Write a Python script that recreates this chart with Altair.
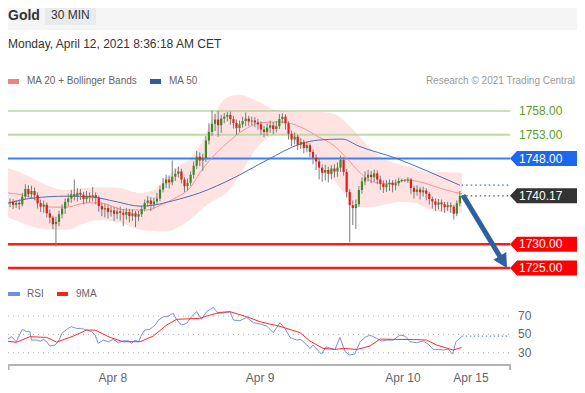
import altair as alt
import pandas as pd

# ---------------- data ----------------
opens = [1738.3, 1738.6, 1738.9, 1738.3, 1738.7, 1738.4, 1740.0, 1741.6, 1740.5, 1741.2,
         1740.3, 1738.6, 1737.9, 1738.3, 1736.5, 1735.6, 1734.2, 1734.7, 1736.3, 1737.5,
         1738.9, 1739.6, 1740.5, 1740.1, 1740.8, 1740.4, 1739.5, 1740.2, 1739.9, 1740.3,
         1739.8, 1738.0, 1737.3, 1737.6, 1736.8, 1737.1, 1736.4, 1736.9, 1736.6, 1736.2,
         1736.8, 1735.9, 1736.5, 1735.8, 1736.3, 1737.4, 1738.7, 1739.2, 1738.4, 1739.0,
         1739.6, 1741.5, 1742.8, 1743.6, 1743.0, 1744.2, 1744.8, 1745.3, 1743.6, 1742.2,
         1742.9, 1744.6, 1746.5, 1748.4, 1747.6, 1748.1, 1751.8, 1753.6, 1755.3, 1756.2,
         1755.0, 1756.4, 1756.8, 1757.2, 1756.3, 1755.5, 1754.4, 1755.2, 1755.9, 1756.4,
         1755.8, 1756.0, 1755.6, 1755.2, 1754.1, 1753.6, 1754.5, 1755.0, 1754.2, 1754.8,
         1756.3, 1756.8, 1755.4, 1753.2, 1752.0, 1752.6, 1750.9, 1751.5, 1750.2, 1750.8,
         1749.4, 1748.2, 1747.4, 1746.1, 1745.0, 1745.6, 1744.8, 1745.9, 1745.3, 1746.1,
         1747.7, 1745.2, 1741.0, 1738.2, 1737.6, 1738.4, 1741.4, 1743.2, 1744.0, 1744.6,
         1744.1, 1744.9, 1743.6, 1742.7, 1742.0, 1742.6, 1742.9, 1742.4, 1742.8, 1743.3,
         1743.5, 1743.4, 1743.6, 1741.8, 1741.0, 1741.5, 1740.9, 1741.3, 1740.6, 1739.5,
         1739.0, 1738.3, 1738.8, 1738.4, 1737.8, 1738.2, 1737.9, 1736.4, 1738.6]
highs = [1739.4, 1739.6, 1739.5, 1739.3, 1739.4, 1740.8, 1742.6, 1742.4, 1742.3, 1741.9,
         1740.9, 1739.4, 1739.2, 1738.8, 1737.3, 1736.0, 1735.8, 1737.0, 1738.4, 1739.6,
         1740.6, 1741.4, 1743.6, 1741.8, 1741.6, 1741.0, 1741.2, 1740.9, 1742.0, 1740.9,
         1740.2, 1738.7, 1738.5, 1738.3, 1738.0, 1737.8, 1737.7, 1737.9, 1737.4, 1737.6,
         1737.4, 1737.3, 1737.0, 1737.0, 1738.1, 1739.4, 1740.1, 1739.9, 1739.8, 1740.8,
         1742.3, 1743.9, 1744.6, 1744.4, 1747.6, 1745.9, 1746.3, 1745.9, 1744.1, 1743.8,
         1745.3, 1747.4, 1749.6, 1749.3, 1749.0, 1752.7, 1755.4, 1758.1, 1757.4, 1758.0,
         1757.2, 1757.6, 1757.8, 1757.9, 1757.0, 1756.2, 1756.0, 1756.8, 1757.7, 1757.0,
         1756.8, 1756.7, 1756.3, 1755.8, 1754.9, 1755.3, 1756.0, 1755.7, 1755.9, 1757.4,
         1757.5, 1757.3, 1755.8, 1753.9, 1753.5, 1753.0, 1752.3, 1752.0, 1751.6, 1751.2,
         1749.9, 1748.9, 1748.0, 1746.8, 1746.7, 1746.3, 1746.6, 1746.8, 1747.2, 1748.6,
         1748.3, 1745.8, 1741.6, 1739.2, 1739.4, 1742.2, 1744.1, 1745.3, 1745.6, 1745.4,
         1745.7, 1745.5, 1744.4, 1743.4, 1743.5, 1743.6, 1743.5, 1743.6, 1744.0, 1743.8,
         1743.7, 1744.1, 1743.9, 1742.3, 1742.4, 1742.0, 1742.1, 1741.8, 1741.0, 1740.0,
         1739.6, 1739.5, 1739.4, 1738.9, 1738.9, 1738.8, 1738.3, 1739.2, 1741.2]
lows = [1737.6, 1737.8, 1737.4, 1737.6, 1737.3, 1737.9, 1739.4, 1739.8, 1739.6, 1739.2,
        1737.5, 1736.8, 1736.6, 1735.6, 1734.4, 1733.2, 1729.5, 1733.8, 1735.4, 1736.4,
        1738.0, 1738.7, 1739.2, 1739.0, 1739.3, 1738.4, 1738.6, 1738.8, 1739.0, 1738.4,
        1736.8, 1735.9, 1735.6, 1735.4, 1735.8, 1734.9, 1735.3, 1735.0, 1733.8, 1735.2,
        1734.6, 1734.9, 1733.6, 1734.8, 1735.7, 1736.9, 1737.8, 1737.0, 1737.5, 1738.2,
        1739.0, 1740.9, 1741.8, 1741.7, 1742.4, 1743.3, 1744.0, 1742.8, 1741.0, 1741.3,
        1742.3, 1743.8, 1745.8, 1746.4, 1745.4, 1747.3, 1751.0, 1752.8, 1753.8, 1752.6,
        1753.4, 1755.4, 1755.8, 1755.1, 1754.3, 1753.0, 1753.6, 1754.5, 1754.8, 1754.9,
        1755.0, 1754.6, 1754.1, 1753.0, 1752.5, 1752.8, 1753.4, 1753.1, 1753.5, 1754.2,
        1755.4, 1754.1, 1752.0, 1750.6, 1751.0, 1749.8, 1750.0, 1749.1, 1749.3, 1748.3,
        1746.8, 1745.6, 1743.6, 1743.1, 1743.4, 1743.0, 1743.6, 1744.0, 1744.2, 1745.2,
        1744.4, 1739.8, 1730.4, 1734.0, 1733.2, 1737.8, 1740.6, 1742.4, 1743.2, 1742.8,
        1743.1, 1742.6, 1741.4, 1740.8, 1741.0, 1741.2, 1740.9, 1741.3, 1742.2, 1743.0,
        1743.1, 1742.9, 1740.6, 1739.6, 1740.2, 1739.4, 1740.0, 1739.2, 1738.3, 1737.5,
        1737.0, 1737.3, 1736.9, 1736.6, 1737.0, 1736.6, 1735.2, 1735.9, 1738.0]
closes = [1738.6, 1738.9, 1738.3, 1738.7, 1738.4, 1740.0, 1741.6, 1740.5, 1741.2, 1740.3,
          1738.6, 1737.9, 1738.3, 1736.5, 1735.6, 1734.2, 1734.7, 1736.3, 1737.5, 1738.9,
          1739.6, 1740.5, 1740.1, 1740.8, 1740.4, 1739.5, 1740.2, 1739.9, 1740.3, 1739.8,
          1738.0, 1737.3, 1737.6, 1736.8, 1737.1, 1736.4, 1736.9, 1736.6, 1736.2, 1736.8,
          1735.9, 1736.5, 1735.8, 1736.3, 1737.4, 1738.7, 1739.2, 1738.4, 1739.0, 1739.6,
          1741.5, 1742.8, 1743.6, 1743.0, 1744.2, 1744.8, 1745.3, 1743.6, 1742.2, 1742.9,
          1744.6, 1746.5, 1748.4, 1747.6, 1748.1, 1751.8, 1753.6, 1755.3, 1756.2, 1755.0,
          1756.4, 1756.8, 1757.2, 1756.3, 1755.5, 1754.4, 1755.2, 1755.9, 1756.4, 1755.8,
          1756.0, 1755.6, 1755.2, 1754.1, 1753.6, 1754.5, 1755.0, 1754.2, 1754.8, 1756.3,
          1756.8, 1755.4, 1753.2, 1752.0, 1752.6, 1750.9, 1751.5, 1750.2, 1750.8, 1749.4,
          1748.2, 1747.4, 1746.1, 1745.0, 1745.6, 1744.8, 1745.9, 1745.3, 1746.1, 1747.7,
          1745.2, 1741.0, 1738.2, 1737.6, 1738.4, 1741.4, 1743.2, 1744.0, 1744.6, 1744.1,
          1744.9, 1743.6, 1742.7, 1742.0, 1742.6, 1742.9, 1742.4, 1742.8, 1743.3, 1743.5,
          1743.4, 1743.6, 1741.8, 1741.0, 1741.5, 1740.9, 1741.3, 1740.6, 1739.5, 1739.0,
          1738.3, 1738.8, 1738.4, 1737.8, 1738.2, 1737.9, 1736.4, 1738.6, 1740.17]

ma20_idx = [0, 8.5, 14, 19.6, 26, 30, 39, 46, 50, 55.5, 60, 63, 66.3, 72, 78.4, 82.7, 90, 96,
            102, 106.5, 111, 115.4, 119.6, 125, 130.7, 135, 140.5, 145.8, 148.7]
ma20_val = [1740.8, 1739.7, 1737.8, 1737.8, 1738.7, 1738.7, 1737.2, 1737.2, 1738.2, 1739.9,
            1742.0, 1745.0, 1747.7, 1751.3, 1754.4, 1755.5, 1755.7, 1754.6, 1752.5, 1750.9,
            1748.1, 1745.0, 1743.1, 1742.7, 1743.5, 1743.1, 1742.0, 1741.0, 1740.6]
ma50_idx = [0, 8.5, 19.6, 28, 36, 43.5, 47.7, 54, 63, 74, 85, 96, 102, 109.5, 115, 127, 138, 148]
ma50_val = [1738.6, 1739.7, 1740.1, 1739.9, 1738.9, 1738.0, 1738.2, 1739.1, 1740.8, 1743.9,
            1747.7, 1751.1, 1751.9, 1752.1, 1750.6, 1748.1, 1745.2, 1742.4]
band_idx = [0, 4, 8, 13, 19, 25, 30, 37, 43, 48, 52, 56, 60, 64, 67, 72, 76, 82, 88, 96,
            102, 106, 111, 115, 119, 124, 128, 133, 138, 142, 148.7]
band_upper = [1746.0, 1745.2, 1744.0, 1742.4, 1741.4, 1741.8, 1742.0, 1741.8, 1740.8, 1741.4,
              1744.0, 1746.4, 1748.0, 1751.9, 1756.3, 1760.9, 1761.4, 1760.0, 1758.2, 1757.8,
              1757.8, 1757.6, 1755.5, 1752.8, 1750.0, 1747.7, 1746.9, 1746.0, 1745.0, 1745.2, 1745.0]
band_lower = [1735.7, 1734.7, 1733.7, 1733.1, 1733.0, 1734.3, 1735.1, 1734.5, 1733.1, 1732.8,
              1732.6, 1733.6, 1735.2, 1737.6, 1739.0, 1741.0, 1744.5, 1750.5, 1753.0, 1751.3,
              1747.5, 1744.2, 1740.2, 1737.8, 1737.8, 1738.4, 1738.9, 1738.7, 1737.3, 1736.7, 1736.6]

rsi_idx = [0, 1.5, 3, 5, 6.4, 7.5, 8, 9.7, 10.8, 11.9, 13, 14, 15.7, 16.8, 17.9, 19.5, 21, 22.8,
           24.4, 26, 27.7, 28.8, 29.8, 31.5, 33.1, 34.7, 36.4, 38, 39.6, 40.7, 41.8, 43, 44, 45,
           46.7, 48.4, 49.5, 51.1, 52.8, 54.3, 55.4, 57, 58.7, 60.3, 62, 63.6, 65.2, 67.4, 69,
           70.7, 72.9, 74, 76.1, 78.3, 80.5, 82.7, 84.9, 87, 89.2, 90.8, 92.5, 94.7, 96, 98, 99,
           100, 101.7, 102.8, 104.3, 105.9, 107.2, 108.8, 110.5, 112, 113.6, 115.4, 117, 118.6,
           120.8, 122.4, 124, 126.3, 128.4, 130, 131.7, 133.9, 136, 137.6, 139.3, 141, 142.6,
           144.2, 145.6, 146.7, 148.6]
rsi_val = [44.5, 47.5, 42, 55.5, 53, 53, 43.8, 43.8, 42.7, 44.5, 42, 37.3, 38.4, 42, 51, 55.5,
           58.4, 56.5, 56.5, 54.7, 53, 49.3, 40.2, 43.8, 42, 44.5, 40.9, 43, 43, 40.2, 43.8, 42,
           49.3, 54.7, 55.5, 60.2, 65.6, 69.3, 70, 73, 66.4, 60.2, 62, 69.3, 74.7, 66.4, 74.7,
           79.5, 73, 73.6, 74.7, 65.6, 64.9, 68.5, 62.7, 61.3, 59.1, 51.8, 62.7, 56.5, 46.7, 43.8,
           44.5, 38.4, 34.7, 38.4, 32.2, 28.5, 36.5, 34.7, 33.6, 46.7, 31.1, 27.5, 28.5, 42, 46.7,
           49.3, 45.6, 42.7, 43.8, 43.8, 49.3, 48.2, 42, 40.9, 42.7, 39.5, 33.6, 33.6, 32.9, 34,
           28.5, 42, 47.5]
rsi_ma_idx = [0, 3, 7.5, 13, 16.2, 21.7, 26, 28.8, 33.7, 38, 43.5, 47.8, 52.2, 55.4, 63, 65.2,
              69.6, 72.9, 78.3, 82.7, 89.2, 95.8, 99, 103.3, 107.2, 110, 114.4, 118.6, 121.9,
              127.4, 132.8, 137.1, 140.4, 145.8, 148.6]
rsi_ma_val = [42.7, 41.3, 47.5, 46.7, 41.6, 48.2, 54.7, 54.7, 46.7, 42, 42, 48.2, 60.2, 66.4,
              67.5, 70, 74, 74.7, 69.3, 63.8, 58.8, 51.8, 42.7, 34.7, 33.6, 34.7, 33.6, 37.3,
              44.9, 44.5, 44.5, 43.8, 38.4, 32.9, 35.8]

levels = [1758.00, 1753.00, 1748.00, 1730.00, 1725.00]
level_labels = ["1758.00", "1753.00", "1748.00", "1730.00", "1725.00"]
level_colors = ["#93c670", "#bcdca4", "#3f7ff2", "#ff1a1a", "#ff1a1a"]
level_widths = [1.2, 2.0, 2.0, 2.6, 2.6]
last_price = 1740.17
last_ma50 = 1742.4
rsi_grid = [70, 50, 30]
rsi_next = 48
tick_pos = [34.6, 82.7, 129.4, 151.6]
tick_labels = ["Apr 8", "Apr 9", "Apr 10", "Apr 15"]
arrow_idx = [149.0, 161.2]
arrow_val = [1740.3, 1727.3]
arrow_tip = [163.4, 1725.0]

# ---------------- layout ----------------
W, H = 569, 377
X_DOM = [0.33, 186.27]
X_END = 164.4
P_DOM = [1700.41, 1779.65]
R_DOM = [-5.2, 406.0]
FONT = "Liberation Sans"

xs = alt.Scale(domain=X_DOM, nice=False, zero=False, padding=0)
ps = alt.Scale(domain=P_DOM, nice=False, zero=False, padding=0)
rs = alt.Scale(domain=R_DOM, nice=False, zero=False, padding=0)


def X(f):
    return alt.X(f, type="quantitative", scale=xs, axis=None)


def P(f):
    return alt.Y(f, type="quantitative", scale=ps, axis=None)


def R(f):
    return alt.Y(f, type="quantitative", scale=rs, axis=None)


one = pd.DataFrame({"k": [0]})


def txt(s, x, y, size=10, color="#666", weight="normal", align="left"):
    return alt.Chart(pd.DataFrame({"t": [s]})).mark_text(
        font=FONT, fontSize=size, color=color, fontWeight=weight, align=align,
        baseline="middle").encode(text="t:N", x=alt.value(x), y=alt.value(y))


def box(x, x2, y, y2, color):
    return alt.Chart(one).mark_rect(color=color).encode(
        x=alt.value(x), x2=alt.value(x2), y=alt.value(y), y2=alt.value(y2))


candles = pd.DataFrame({"i": list(range(len(closes))), "o": opens, "h": highs,
                        "l": lows, "c": closes})
candles["col"] = ["#3b8a26" if c >= o else "#e31b1b" for o, c in zip(opens, closes)]

band = pd.DataFrame({"i": band_idx, "u": band_upper, "l": band_lower})
ma20 = pd.DataFrame({"i": ma20_idx, "v": ma20_val})
ma50 = pd.DataFrame({"i": ma50_idx, "v": ma50_val})
lv = pd.DataFrame({"p": levels, "lab": level_labels, "c": level_colors, "w": level_widths,
                   "x0": X_DOM[0], "x1": X_END})

layers = []
# header
layers.append(box(0, W, 0, 22, "#f5f5f5"))
layers.append(box(37, 88, 0, 17, "#e9eaec"))
layers.append(txt("Gold", 0, 8, size=14, color="#333", weight="bold"))
layers.append(txt("30 MIN", 43, 7, size=12, color="#333"))
layers.append(txt("Monday, April 12, 2021 8:36:18 AM CET", 0, 36, size=12, color="#333"))
layers.append(box(0, 11, 71, 76, "#f47f7f"))
layers.append(txt("MA 20 + Bollinger Bands", 19, 73))
layers.append(box(142, 153, 71, 76, "#2d5f9e"))
layers.append(txt("MA 50", 161, 73))
layers.append(txt("Research \u00a9 2021 Trading Central", 567, 73, color="#9a9a9a", align="right"))

# bollinger band
layers.append(alt.Chart(band).mark_area(color="#ffe3e3", interpolate="monotone").encode(
    x=X("i"), y=P("u"), y2="l"))
# level lines
layers.append(alt.Chart(lv).mark_rule().encode(
    x=X("x0"), x2="x1", y=P("p"),
    color=alt.Color("c:N", scale=None), strokeWidth=alt.StrokeWidth("w:Q", scale=None)))
# moving averages
layers.append(alt.Chart(ma20).mark_line(color="#ff8f8f", strokeWidth=1, interpolate="monotone").encode(
    x=X("i"), y=P("v")))
layers.append(alt.Chart(ma50).mark_line(color="#4a6fb8", strokeWidth=1, interpolate="monotone").encode(
    x=X("i"), y=P("v")))
# candles
layers.append(alt.Chart(candles).mark_rule(color="#7a7a7a", strokeWidth=1).encode(
    x=X("i"), y=P("l"), y2="h"))
layers.append(alt.Chart(candles).mark_bar(size=2.2).encode(
    x=X("i"), y=P("o"), y2="c", color=alt.Color("col:N", scale=None)))
# dotted extensions
ext = pd.DataFrame({"x0": [148.6, 148.6], "x1": [X_END, X_END], "p": [last_price, last_ma50],
                    "c": ["#555555", "#3f6fc0"]})
layers.append(alt.Chart(ext).mark_rule(strokeDash=[1.5, 3], strokeWidth=1.2).encode(
    x=X("x0"), x2="x1", y=P("p"), color=alt.Color("c:N", scale=None)))
# right labels
SHAPE = "M -36 0 L -29 -7.5 L 40 -7.5 L 40 7.5 L -29 7.5 Z"
boxes = pd.DataFrame({"p": [1748.00, last_price, 1730.00, 1725.00],
                      "lab": ["1748.00", f"{last_price:.2f}", "1730.00", "1725.00"],
                      "c": ["#1d66f0", "#333333", "#ff0000", "#ff0000"]})
layers.append(alt.Chart(boxes).mark_point(shape=SHAPE, size=4, filled=True, opacity=1,
                                          strokeWidth=0).encode(
    x=alt.value(538), y=P("p"), fill=alt.Color("c:N", scale=None)))
layers.append(alt.Chart(boxes).mark_text(font=FONT, fontSize=12, color="white", align="left",
                                         baseline="middle").encode(
    x=alt.value(511), y=P("p"), text="lab:N"))
greens = lv.iloc[:2]
layers.append(alt.Chart(greens).mark_text(font=FONT, fontSize=12, color="#5a9e24", align="left",
                                          baseline="middle").encode(
    x=alt.value(511), y=P("p"), text="lab:N"))
# arrow
arr = pd.DataFrame({"i": arrow_idx, "v": arrow_val})
layers.append(alt.Chart(arr).mark_line(color="#2f5f9f", strokeWidth=5, strokeCap="butt").encode(
    x=X("i"), y=P("v")))
HEAD = "M 0 0 L -13.6 -8.2 L -0.8 -16 Z"
layers.append(alt.Chart(pd.DataFrame({"i": [arrow_tip[0]], "v": [arrow_tip[1]]})).mark_point(
    shape=HEAD, size=4, filled=True, opacity=1, color="#2f5f9f", strokeWidth=0).encode(
    x=X("i"), y=P("v")))

# RSI panel
layers.append(box(0, 12, 284, 288, "#6d8fe6"))
layers.append(txt("RSI", 19, 286))
layers.append(box(49, 60, 284, 288, "#ff2020"))
layers.append(txt("9MA", 68, 286))
grid = pd.DataFrame({"r": rsi_grid, "lab": [str(g) for g in rsi_grid], "x0": X_DOM[0], "x1": X_END})
layers.append(alt.Chart(grid).mark_rule(color="#b0b0b0", strokeDash=[1, 4], strokeWidth=1).encode(
    x=X("x0"), x2="x1", y=R("r")))
layers.append(alt.Chart(grid).mark_text(font=FONT, fontSize=12, color="#666", align="left",
                                        baseline="middle").encode(
    x=alt.value(510), y=R("r"), text="lab:N"))
rsi = pd.DataFrame({"i": rsi_idx, "v": rsi_val})
layers.append(alt.Chart(rsi).mark_line(color="#7093ea", strokeWidth=1).encode(x=X("i"), y=R("v")))
rsi_ext = pd.DataFrame({"i": [rsi_idx[-1]], "i2": [X_END], "v": [rsi_next]})
layers.append(alt.Chart(rsi_ext).mark_rule(color="#7093ea", strokeDash=[1.5, 2.5], strokeWidth=1.2).encode(
    x=X("i"), x2="i2", y=R("v")))
rma = pd.DataFrame({"i": rsi_ma_idx, "v": rsi_ma_val})
layers.append(alt.Chart(rma).mark_line(color="#ff2a2a", strokeWidth=1).encode(x=X("i"), y=R("v")))
# time axis
axis_df = pd.DataFrame({"x0": [X_DOM[0]], "x1": [X_END]})
layers.append(alt.Chart(axis_df).mark_rule(color="#b4b4b4", strokeWidth=2).encode(
    x=X("x0"), x2="x1", y=alt.value(357)))
ends = pd.DataFrame({"i": [X_DOM[0] + 0.2, X_END]})
layers.append(alt.Chart(ends).mark_rule(color="#b4b4b4", strokeWidth=2).encode(
    x=X("i"), y=alt.value(356), y2=alt.value(362)))
ticks = pd.DataFrame({"i": tick_pos, "lab": tick_labels})
layers.append(alt.Chart(ticks).mark_text(font=FONT, fontSize=12, color="#666", baseline="middle").encode(
    x=X("i"), y=alt.value(370), text="lab:N"))

chart = alt.layer(*layers).resolve_scale(y="independent").properties(
    width=W, height=H, padding=0, autosize=alt.AutoSizeParams(type="none"),
    background="white").configure_view(stroke=None)

chart.save("out.html", embed_options={"renderer": "svg", "actions": False})
